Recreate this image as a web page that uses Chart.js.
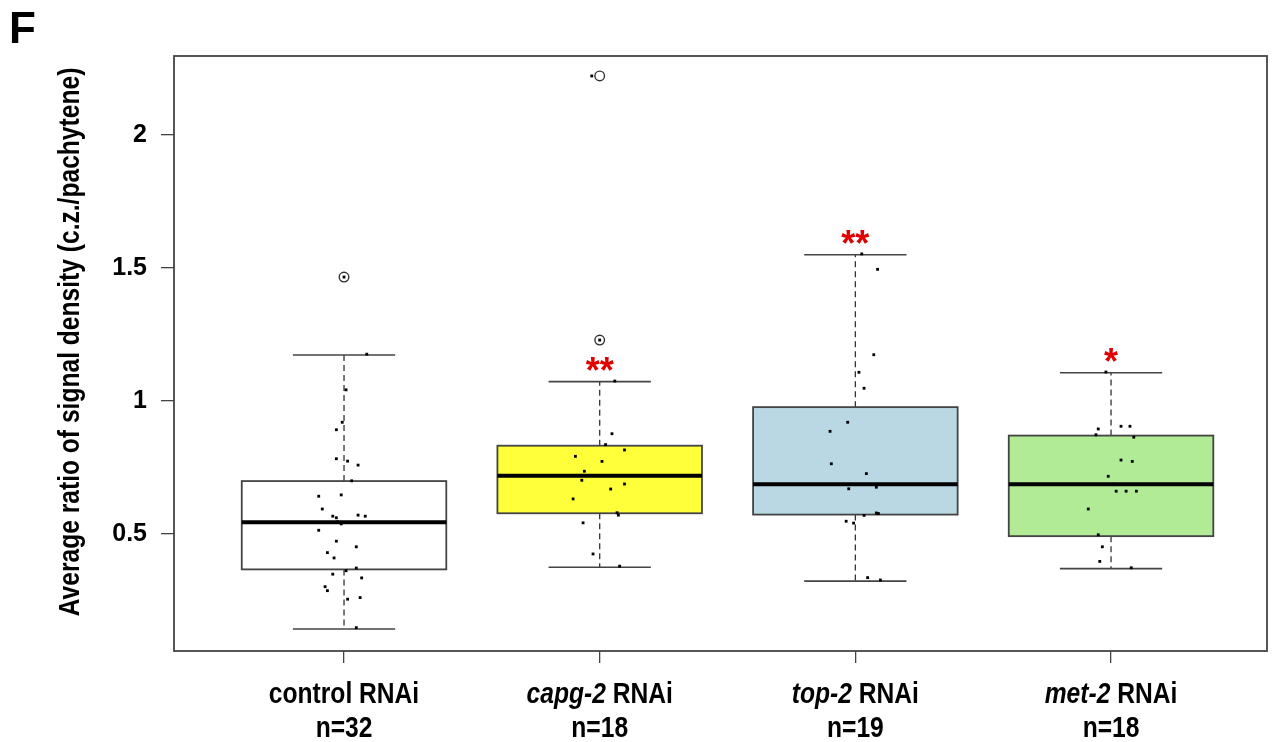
<!DOCTYPE html>
<html>
<head>
<meta charset="utf-8">
<script src="https://cdn.jsdelivr.net/npm/chart.js@4/dist/chart.umd.min.js"></script>
<style>
  html, body { margin: 0; padding: 0; background: #fff; }
  #wrap { width: 1281px; height: 742px; position: relative; }
</style>
</head>
<body>
<div id="wrap"><canvas id="chart"></canvas></div>
<script>
const geneNames = ['', 'capg-2', 'top-2', 'met-2'];
const labelRest = ['control RNAi', ' RNAi', ' RNAi', ' RNAi'];
const sampleSizes = ['n=32', 'n=18', 'n=19', 'n=18'];
const boxColors = ['#ffffff', '#ffff3a', '#b9d8e4', '#b2eb96'];
const significance = ['', '**', '**', '*'];

const whiskerLow = [0.143, 0.375, 0.323, 0.370];
const quart1 = [0.367, 0.578, 0.573, 0.492];
const medians = [0.544, 0.719, 0.687, 0.687];
const quart3 = [0.699, 0.832, 0.977, 0.870];
const whiskerHigh = [1.173, 1.073, 1.550, 1.106];

const outlierX = [1, 2, 2];
const outlierY = [1.466, 1.229, 2.222];

const controlX = [1.089, 1.008, 0.993, 0.970, 0.970, 1.014, 1.055, 0.901, 0.989, 0.915, 0.956, 0.970, 1.055, 1.083, 0.989, 0.901,
  0.970, 1.048, 0.935, 0.961, 1.048, 1.008, 0.956, 1.069, 0.926, 0.935, 1.014, 1.063, 1.048, 1.000, 0.975, 1.030];
const controlY = [1.176, 1.042, 0.920, 0.892, 0.783, 0.774, 0.759, 0.642, 0.647, 0.594, 0.567, 0.561, 0.571, 0.567, 0.538, 0.514,
  0.473, 0.452, 0.430, 0.410, 0.372, 0.362, 0.349, 0.335, 0.302, 0.287, 0.255, 0.261, 0.148, 1.466, 0.546, 0.700];
const capgX = [2.059, 2.048, 2.023, 2.097, 1.905, 2.009, 1.940, 1.930, 2.097, 2.043, 1.896, 2.068, 2.073, 1.935, 1.974, 2.078, 1.969, 2.000];
const capgY = [1.075, 0.877, 0.836, 0.816, 0.792, 0.773, 0.736, 0.702, 0.688, 0.669, 0.632, 0.580, 0.571, 0.542, 0.425, 0.379, 2.222, 1.229];
const topX = [3.025, 3.087, 3.072, 3.014, 3.034, 2.970, 2.901, 2.906, 3.043, 2.974, 3.082, 3.082, 3.034, 2.964, 2.993, 3.048, 3.098, 3.000, 3.090];
const topY = [1.553, 1.495, 1.174, 1.108, 1.048, 0.920, 0.886, 0.764, 0.727, 0.670, 0.676, 0.579, 0.570, 0.548, 0.541, 0.336, 0.327, 0.687, 0.577];
const metX = [3.980, 3.950, 4.039, 4.074, 3.941, 4.089, 4.039, 4.083, 3.989, 4.020, 4.059, 4.099, 3.911, 3.950, 3.966, 3.956, 4.079, 4.010];
const metY = [1.109, 0.895, 0.905, 0.905, 0.873, 0.864, 0.778, 0.773, 0.717, 0.661, 0.661, 0.661, 0.594, 0.497, 0.452, 0.397, 0.373, 0.687];

const yTicks = [0.5, 1, 1.5, 2];
const yTickLabels = ['0.5', '1', '1.5', '2'];
const xTicks = [1, 2, 3, 4];

const SANS = "'Liberation Sans', Arial, sans-serif";
const SQUEEZE = 0.82;

function pts(xs, ys) {
  return xs.map((x, i) => ({ x, y: ys[i] }));
}

function jitterSet(xs, ys) {
  return {
    data: pts(xs, ys),
    pointStyle: 'rect',
    pointRadius: 2,
    backgroundColor: '#000',
    borderWidth: 0
  };
}

// condensed text: draw at (x, y) with horizontal squeeze
function narrowText(ctx, text, x, y, font) {
  ctx.save();
  ctx.font = font;
  ctx.translate(x, y);
  ctx.scale(SQUEEZE, 1);
  ctx.fillText(text, 0, 0);
  ctx.restore();
}

function narrowWidth(ctx, text, font) {
  ctx.font = font;
  return ctx.measureText(text).width * SQUEEZE;
}

const boxPlugin = {
  id: 'boxes',
  beforeDatasetsDraw(chart) {
    const ctx = chart.ctx;
    const xs = chart.scales.x;
    const ys = chart.scales.y;
    ctx.save();
    medians.forEach((m, i) => {
      const c = xTicks[i];
      const l = xs.getPixelForValue(c - 0.4);
      const r = xs.getPixelForValue(c + 0.4);
      const cl = xs.getPixelForValue(c - 0.2);
      const cr = xs.getPixelForValue(c + 0.2);
      const cx = xs.getPixelForValue(c);
      const yq1 = ys.getPixelForValue(quart1[i]);
      const yq3 = ys.getPixelForValue(quart3[i]);
      const ylo = ys.getPixelForValue(whiskerLow[i]);
      const yhi = ys.getPixelForValue(whiskerHigh[i]);
      const ym = ys.getPixelForValue(m);

      // whiskers
      ctx.strokeStyle = '#333';
      ctx.lineWidth = 1.3;
      ctx.setLineDash([6, 4]);
      ctx.beginPath();
      ctx.moveTo(cx, yq3); ctx.lineTo(cx, yhi);
      ctx.moveTo(cx, yq1); ctx.lineTo(cx, ylo);
      ctx.stroke();
      ctx.setLineDash([]);
      ctx.lineWidth = 1.6;
      ctx.strokeStyle = '#444';
      ctx.beginPath();
      ctx.moveTo(cl, yhi); ctx.lineTo(cr, yhi);
      ctx.moveTo(cl, ylo); ctx.lineTo(cr, ylo);
      ctx.stroke();

      // box
      ctx.fillStyle = boxColors[i];
      ctx.fillRect(l, yq3, r - l, yq1 - yq3);
      ctx.lineWidth = 1.8;
      ctx.strokeStyle = '#444';
      ctx.strokeRect(l, yq3, r - l, yq1 - yq3);

      // median
      ctx.strokeStyle = '#000';
      ctx.lineWidth = 4;
      ctx.beginPath();
      ctx.moveTo(l, ym); ctx.lineTo(r, ym);
      ctx.stroke();

      // significance stars
      if (significance[i]) {
        ctx.font = 'bold 36px ' + SANS;
        ctx.fillStyle = '#e00000';
        ctx.textAlign = 'center';
        ctx.textBaseline = 'alphabetic';
        const mt = ctx.measureText(significance[i]);
        const mid = (mt.actualBoundingBoxAscent - mt.actualBoundingBoxDescent) / 2;
        ctx.fillText(significance[i], cx, yhi - 18 + mid);
      }
    });
    ctx.restore();
  },
  afterDraw(chart) {
    const ctx = chart.ctx;
    const area = chart.chartArea;
    const xs = chart.scales.x;
    ctx.save();
    ctx.strokeStyle = '#444';
    ctx.lineWidth = 1.8;
    ctx.strokeRect(area.left, area.top, area.right - area.left, area.bottom - area.top);

    ctx.fillStyle = '#000';
    ctx.textBaseline = 'alphabetic';
    ctx.textAlign = 'left';
    const plain = 'bold 30px ' + SANS;
    const ital = 'italic bold 30px ' + SANS;
    xTicks.forEach((v, i) => {
      const cx = xs.getPixelForValue(v);
      const w1 = narrowWidth(ctx, geneNames[i], ital);
      const w2 = narrowWidth(ctx, labelRest[i], plain);
      const x0 = cx - (w1 + w2) / 2;
      narrowText(ctx, geneNames[i], x0, area.bottom + 52, ital);
      narrowText(ctx, labelRest[i], x0 + w1, area.bottom + 52, plain);
      const w3 = narrowWidth(ctx, sampleSizes[i], plain);
      narrowText(ctx, sampleSizes[i], cx - w3 / 2, area.bottom + 86, plain);
    });

    const title = 'Average ratio of signal density (c.z./pachytene)';
    ctx.save();
    ctx.translate(71, 342);
    ctx.rotate(-Math.PI / 2);
    ctx.textBaseline = 'middle';
    const wt = narrowWidth(ctx, title, plain);
    narrowText(ctx, title, -wt / 2, 0, plain);
    ctx.restore();

    ctx.textBaseline = 'alphabetic';
    ctx.font = 'bold 44px ' + SANS;
    ctx.fillText('F', 9, 43);
    ctx.restore();
  }
};

const ctx = document.getElementById('chart').getContext('2d');
const chart = new Chart(ctx, {
  type: 'scatter',
  data: {
    datasets: [
      jitterSet(controlX, controlY),
      jitterSet(capgX, capgY),
      jitterSet(topX, topY),
      jitterSet(metX, metY),
      {
        data: pts(outlierX, outlierY),
        pointStyle: 'circle',
        pointRadius: 4.8,
        backgroundColor: 'rgba(0,0,0,0)',
        borderColor: '#333',
        borderWidth: 1.4
      }
    ]
  },
  options: {
    responsive: true,
    maintainAspectRatio: false,
    animation: false,
    layout: { padding: { left: 0, top: 56, right: 14, bottom: 0 } },
    plugins: { legend: { display: false }, tooltip: { enabled: false } },
    scales: {
      x: {
        type: 'linear',
        min: 0.335,
        max: 4.61,
        afterBuildTicks: (s) => { s.ticks = xTicks.map(v => ({ value: v })); },
        afterFit: (s) => { s.height = 91; },
        border: { display: false },
        grid: { drawOnChartArea: false, drawTicks: true, tickLength: 12, color: '#444', lineWidth: 1.3 },
        ticks: { callback: () => '' }
      },
      y: {
        min: 0.0602,
        max: 2.297,
        afterBuildTicks: (s) => { s.ticks = yTicks.map(v => ({ value: v })); },
        afterFit: (s) => { s.width = 174; },
        border: { display: false },
        grid: { drawOnChartArea: false, drawTicks: true, tickLength: 13, color: '#444', lineWidth: 1.3 },
        ticks: {
          padding: 14,
          color: '#000',
          font: { family: SANS, size: 25, weight: 'bold' },
          callback: (v, i) => yTickLabels[i]
        }
      }
    }
  },
  plugins: [boxPlugin]
});
</script>
</body>
</html>
